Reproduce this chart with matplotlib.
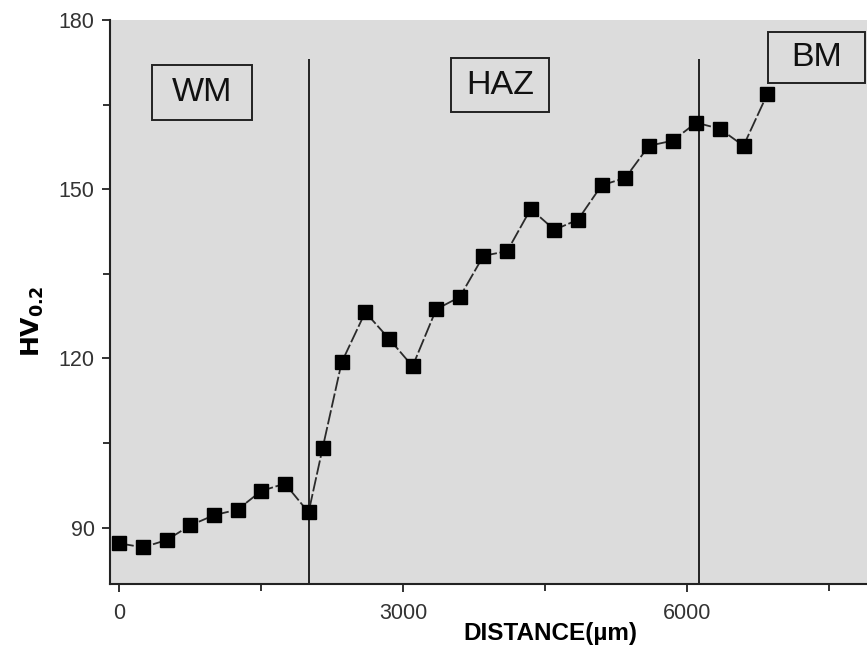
import matplotlib
matplotlib.use("Agg")
import matplotlib.pyplot as plt
from matplotlib.patches import Rectangle
from matplotlib.ticker import MultipleLocator

plt.rcParams['font.family'] = ['Liberation Sans', 'DejaVu Sans']

distance = [0, 250, 500, 750, 1000, 1250, 1500, 1750, 2000, 2150,
            2350, 2600, 2850, 3100, 3350, 3600, 3850, 4100, 4350, 4600,
            4850, 5100, 5350, 5600, 5850, 6100, 6350, 6600, 6850]
hardness = [87.2, 86.5, 87.8, 90.4, 92.2, 93.2, 96.5, 97.8, 92.7, 104.2,
            119.3, 128.2, 123.5, 118.6, 128.7, 130.9, 138.2, 139.0, 146.5, 142.8,
            144.6, 150.7, 152.0, 157.7, 158.6, 161.8, 160.7, 157.7, 166.8]
zone_bounds = [2000, 6130]
zone_labels = ["WM", "HAZ", "BM"]
xticks = [0, 3000, 6000]
yticks = [90, 120, 150, 180]

W, H = 867, 651
fig = plt.figure(figsize=(W / 100, H / 100), dpi=100)
ax_l, ax_r, ax_t, ax_b = 110, 867, 20, 584
ax = fig.add_axes([ax_l / W, (H - ax_b) / H, (ax_r - ax_l) / W, (ax_b - ax_t) / H])
ax.set_facecolor('#dcdcdc')

ax.plot(distance, hardness, color='#2a2a2a', lw=1.3, dashes=(8, 1.5),
        marker='s', markersize=9.5, markerfacecolor='black',
        markeredgecolor='black', zorder=3)
for b in zone_bounds:
    ax.vlines(b, 80, 173.1, color='#222222', lw=1.4, zorder=2)

ax.set_xlim(-100, 7906)
ax.set_ylim(80, 180)
ax.set_xticks(xticks)
ax.set_yticks(yticks)
ax.xaxis.set_minor_locator(MultipleLocator(1500))
ax.yaxis.set_minor_locator(MultipleLocator(15))
ax.tick_params(axis='both', which='major', direction='out', length=6, width=1.3,
               labelsize=15.5, labelcolor='#333333', color='#222222', pad=5)
ax.tick_params(axis='x', which='major', pad=8)
ax.tick_params(axis='both', which='minor', direction='out', length=5, width=1.3,
               color='#222222')
for s in ['top', 'right']:
    ax.spines[s].set_visible(False)
for s in ['left', 'bottom']:
    ax.spines[s].set_linewidth(1.5)
    ax.spines[s].set_color('#222222')

ax.set_xlabel('DISTANCE(\u00b5m)', fontsize=17.5, fontweight='bold')
ax.set_ylabel(r'$\mathbf{HV_{0.2}}$', fontsize=18)
ax.xaxis.set_label_coords((550 - ax_l) / (ax_r - ax_l), (ax_b - 622) / (ax_b - ax_t))
ax.yaxis.set_label_coords((46 - ax_l) / (ax_r - ax_l), (ax_b - 321) / (ax_b - ax_t))

# zone label boxes (pixel positions: left, top, right, bottom)
boxes = [(151.7, 65, 251.7, 120), (450.7, 58.3, 549.3, 111.7), (768.3, 31.7, 865, 83.3)]
for lab, (l, t, r, b) in zip(zone_labels, boxes):
    x0 = (l - ax_l) / (ax_r - ax_l)
    y0 = (ax_b - b) / (ax_b - ax_t)
    w = (r - l) / (ax_r - ax_l)
    h = (b - t) / (ax_b - ax_t)
    ax.add_patch(Rectangle((x0, y0), w, h, transform=ax.transAxes, fill=False,
                           edgecolor='#222222', lw=1.4, zorder=4, clip_on=False))
    ax.text(x0 + w / 2, y0 + h / 2, lab, transform=ax.transAxes, ha='center',
            va='center', fontsize=24.5, color='#111111', zorder=5)

fig.savefig('out.png', dpi=100)
